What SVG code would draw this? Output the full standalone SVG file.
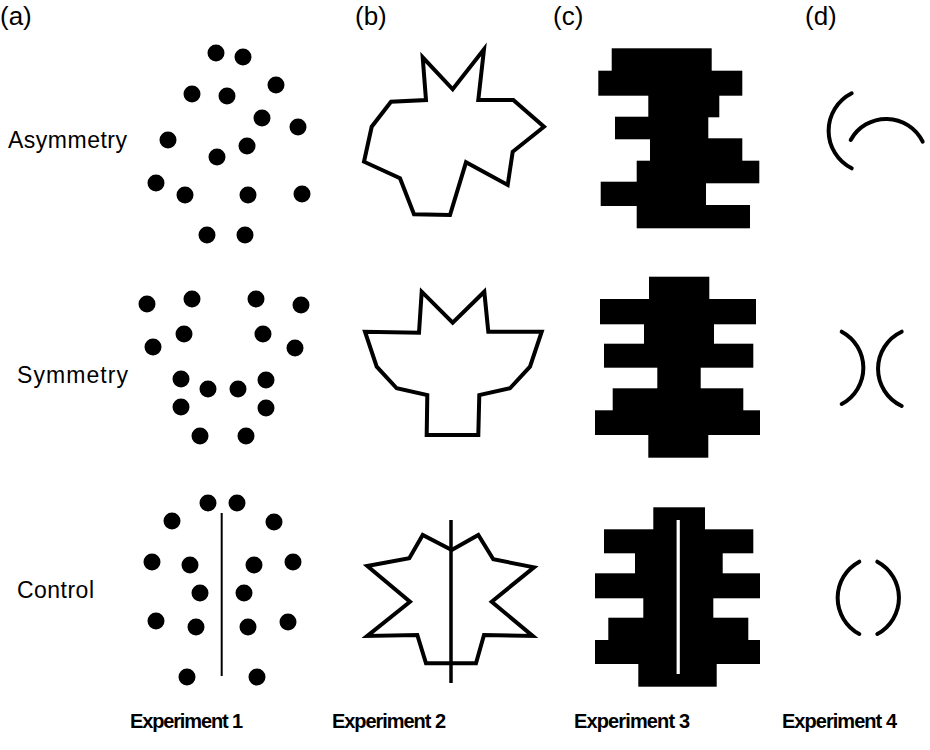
<svg xmlns="http://www.w3.org/2000/svg" width="930" height="750" viewBox="0 0 930 750">
<style>
text{font-family:"Liberation Sans",Arial,sans-serif;fill:#000}
.pl{font-size:26px}
.rl{font-size:23px}
.el{font-size:20px;font-weight:bold}
.dot{fill:#000}
.out{fill:none;stroke:#000;stroke-width:4;stroke-linejoin:miter}
.blk{fill:#000}
.arc{fill:none;stroke:#000;stroke-width:4;stroke-linecap:round}
</style>
<rect width="930" height="750" fill="#fff"/>
<g id="labels">
<text class="pl" x="0" y="25">(a)</text>
<text class="pl" x="355" y="25">(b)</text>
<text class="pl" x="553" y="25">(c)</text>
<text class="pl" x="805" y="25">(d)</text>
<text class="rl" x="8" y="148" textLength="119">Asymmetry</text>
<text class="rl" x="17" y="383" textLength="111">Symmetry</text>
<text class="rl" x="17" y="598" textLength="77">Control</text>
<text class="el" x="130" y="728" textLength="113">Experiment 1</text>
<text class="el" x="332" y="728" textLength="114">Experiment 2</text>
<text class="el" x="574" y="728" textLength="116">Experiment 3</text>
<text class="el" x="782" y="728" textLength="115">Experiment 4</text>
</g>
<g id="exp1-asym" class="dot">
<circle cx="216" cy="53" r="8.5"/><circle cx="243" cy="57" r="8.5"/>
<circle cx="192" cy="94" r="8.5"/><circle cx="227" cy="96" r="8.5"/>
<circle cx="276" cy="85" r="8.5"/><circle cx="262" cy="118" r="8.5"/>
<circle cx="298" cy="127" r="8.5"/><circle cx="168" cy="140" r="8.5"/>
<circle cx="247" cy="146" r="8.5"/><circle cx="217" cy="157" r="8.5"/>
<circle cx="156" cy="183" r="8.5"/><circle cx="185" cy="195" r="8.5"/>
<circle cx="248" cy="195" r="8.5"/><circle cx="302" cy="194" r="8.5"/>
<circle cx="207" cy="235" r="8.5"/><circle cx="245" cy="235" r="8.5"/>
</g>
<g id="exp1-sym" class="dot">
<circle cx="147" cy="304" r="8.5"/><circle cx="192" cy="299" r="8.5"/>
<circle cx="256" cy="299" r="8.5"/><circle cx="301" cy="305" r="8.5"/>
<circle cx="184" cy="334" r="8.5"/><circle cx="263" cy="334" r="8.5"/>
<circle cx="153" cy="347" r="8.5"/><circle cx="295" cy="348" r="8.5"/>
<circle cx="181" cy="379" r="8.5"/><circle cx="266" cy="380" r="8.5"/>
<circle cx="208" cy="389" r="8.5"/><circle cx="238" cy="389" r="8.5"/>
<circle cx="181" cy="407" r="8.5"/><circle cx="266" cy="408" r="8.5"/>
<circle cx="200" cy="436" r="8.5"/><circle cx="246" cy="436" r="8.5"/>
</g>
<g id="exp1-ctrl" class="dot">
<circle cx="208" cy="503" r="8.5"/><circle cx="237" cy="503" r="8.5"/>
<circle cx="172" cy="521" r="8.5"/><circle cx="274" cy="522" r="8.5"/>
<circle cx="152" cy="562" r="8.5"/><circle cx="190" cy="565" r="8.5"/>
<circle cx="254" cy="565" r="8.5"/><circle cx="293" cy="562" r="8.5"/>
<circle cx="200" cy="593" r="8.5"/><circle cx="244" cy="593" r="8.5"/>
<circle cx="156" cy="621" r="8.5"/><circle cx="196" cy="627" r="8.5"/>
<circle cx="248" cy="627" r="8.5"/><circle cx="288" cy="622" r="8.5"/>
<circle cx="187" cy="677" r="8.5"/><circle cx="257" cy="677" r="8.5"/>
<line x1="221.7" y1="513" x2="221.7" y2="676" stroke="#000" stroke-width="2"/>
</g>
<g id="exp2-asym">
<polygon class="out" points="422.7,57.3 426,100 391,101.7 371.7,126.7 364,161.7 400,178.3 414,214.3 450,215 466,162.3 507.7,185 512.7,151.7 544,126.7 513.3,100 478.3,100 484,49.3 452.7,89.3"/>
</g>
<g id="exp2-sym">
<polygon class="out" points="421.7,291.7 419,332.7 365,331.7 376.7,366.7 396.7,388.3 427.3,395 426.7,435 478.3,435 479.3,395 510,388.3 530,366.7 541.7,331.7 488.3,331.7 484.3,291.7 452.7,322.7"/>
</g>
<g id="exp2-ctrl">
<polygon class="out" points="422.7,535 409.3,558.3 367.3,566 410,601.7 367.3,636 417.3,635 426,663.3 476,663.3 484,635 532.7,636 491.7,601.7 534,567.3 493.3,559.3 478.3,535 451.7,550"/>
<line x1="451" y1="520" x2="451" y2="683" stroke="#000" stroke-width="3.5"/>
</g>
<g id="exp3-asym" class="blk">
<rect x="611.7" y="48.3" width="100" height="23.4"/>
<rect x="598.3" y="70.7" width="144" height="25"/>
<rect x="648.3" y="95" width="71" height="22.3"/>
<rect x="615" y="116.7" width="93.3" height="22.6"/>
<rect x="650" y="138.3" width="92.3" height="23.4"/>
<rect x="636.7" y="160.7" width="122.6" height="22.6"/>
<rect x="600.7" y="181.7" width="105.3" height="24.3"/>
<rect x="636.7" y="205" width="113.3" height="23.3"/>
</g>
<g id="exp3-sym" class="blk">
<rect x="649" y="276.7" width="60.3" height="23.3"/>
<rect x="600" y="299" width="156" height="25.3"/>
<rect x="644" y="324" width="70" height="20.3"/>
<rect x="604" y="343.7" width="149.3" height="24"/>
<rect x="657.3" y="367" width="43.4" height="22"/>
<rect x="612.7" y="388.3" width="130.6" height="22.7"/>
<rect x="595" y="410.3" width="165" height="24.7"/>
<rect x="648.3" y="434.3" width="60" height="23.4"/>
</g>
<g id="exp3-ctrl">
<g class="blk">
<rect x="653.3" y="507.3" width="51.7" height="22.7"/>
<rect x="604" y="529.3" width="149.3" height="24"/>
<rect x="635" y="552.7" width="87.7" height="21.3"/>
<rect x="595" y="573.3" width="165" height="25"/>
<rect x="643.3" y="597.7" width="70" height="20.6"/>
<rect x="608.3" y="617.7" width="140" height="23.3"/>
<rect x="595" y="640" width="165" height="24"/>
<rect x="638.3" y="663.3" width="78.4" height="23.4"/>
</g>
<rect x="676.6" y="520" width="3.2" height="154" fill="#fff"/>
</g>
<g id="exp4-asym">
<path class="arc" d="M851.7,93.3 A42,42 0 0 0 851.7,168.3"/>
<path class="arc" d="M850.7,140 A40.5,40.5 0 0 1 922.7,141.7"/>
</g>
<g id="exp4-sym">
<path class="arc" d="M841.7,331.7 A41,41 0 0 1 841.7,404"/>
<path class="arc" d="M901.7,331.7 A41,41 0 0 0 901.7,406"/>
</g>
<g id="exp4-ctrl">
<path class="arc" d="M859.3,561.7 A41,41 0 0 0 859.3,634"/>
<path class="arc" d="M877.3,561.7 A41,41 0 0 1 877.3,634"/>
</g>
<g id="connectors"></g>
</svg>
